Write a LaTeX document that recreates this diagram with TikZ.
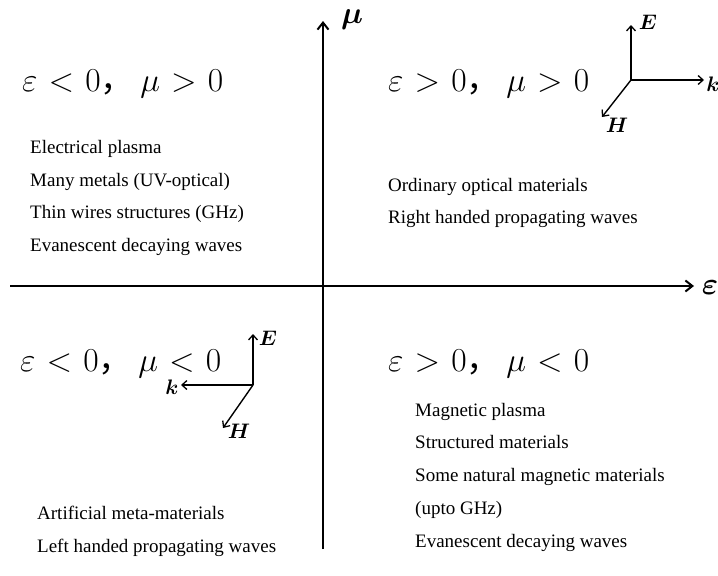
\RequirePackage{fix-cm}
\documentclass[tikz,border=0pt]{standalone}
\usepackage{amsmath}
\usepackage{bm}
\usepackage{fontspec}
\setmainfont{Liberation Serif}
\newfontfamily\cjk{Noto Sans CJK SC}
\usetikzlibrary{arrows.meta}
\newcommand{\cnd}[4]{\thickmuskip=6mu$#1#2 0$\cjk{，}\hspace{6pt}$#3#4 0$}
\begin{document}
\begin{tikzpicture}[x=1pt,y=-1pt,
  axis/.style={line width=2.4pt,-{Straight Barb[length=7pt,width=11pt,line width=2pt]}},
  vec/.style={line width=1.4pt,-{Straight Barb[length=5pt,width=9pt,line width=1.3pt]}},
  body/.style={anchor=base west,inner sep=0pt,font=\fontsize{19}{21}\selectfont},
  cond/.style={anchor=base west,inner sep=0pt,font=\fontsize{33.5}{36}\selectfont},
  vlab/.style={inner sep=0pt,font=\fontsize{21}{24}\selectfont},
  alab/.style={inner sep=0pt,font=\fontsize{31}{34}\selectfont}]
\useasboundingbox (0,0) rectangle (718,576);
% axes
\coordinate (xs) at (10,286);
\coordinate (xe) at (694,286);
\coordinate (ys) at (323,549);
\coordinate (ye) at (323,21);
\draw[axis] (xs) -- (xe);
\draw[axis] (ys) -- (ye);
\node[alab] (mu) at (352,20) {$\bm{\mu}$};
\node[alab] (eps) at (710,288) {$\bm{\varepsilon}$};
% conditions
\node[cond] (c1) at (22,91) {\cnd{\varepsilon}{<}{\mu}{>}};
\node[cond] (c2) at (388,91) {\cnd{\varepsilon}{>}{\mu}{>}};
\node[cond] (c3) at (20,371) {\cnd{\varepsilon}{<}{\mu}{<}};
\node[cond] (c4) at (388,371) {\cnd{\varepsilon}{>}{\mu}{<}};
% quadrant texts
\node[body] (t1) at (30,153) {Electrical plasma};
\node[body] (t2) at (30,186) {Many metals (UV-optical)};
\node[body] (t3) at (30,218.5) {Thin wires structures (GHz)};
\node[body] (t4) at (30,251) {Evanescent decaying waves};
\node[body] (t5) at (388,191) {Ordinary optical materials};
\node[body] (t6) at (388,223.5) {Right handed propagating waves};
\node[body] (t7) at (37,519) {Artificial meta-materials};
\node[body] (t8) at (37,552) {Left handed propagating waves};
\node[body] (t9) at (415,416) {Magnetic plasma};
\node[body] (t10) at (415,448.5) {Structured materials};
\node[body] (t11) at (415,481) {Some natural magnetic materials};
\node[body] (t12) at (415,514) {(upto GHz)};
\node[body] (t13) at (415,547) {Evanescent decaying waves};
% triad top right
\coordinate (o1) at (631,80);
\coordinate (e1) at (631,25);
\coordinate (k1) at (704,80);
\coordinate (h1) at (602,117);
\draw[vec] (o1) -- (e1);
\draw[vec] (o1) -- (k1);
\draw[vec] (o1) -- (h1);
\node[vlab] (E1) at (648,22) {$\bm{E}$};
\node[vlab] (K1) at (713,84) {$\bm{k}$};
\node[vlab] (H1) at (617,125) {$\bm{H}$};
% triad bottom left
\coordinate (o2) at (253,385);
\coordinate (e2) at (253,334);
\coordinate (k2) at (181,385);
\coordinate (h2) at (223,428);
\draw[vec] (o2) -- (e2);
\draw[vec] (o2) -- (k2);
\draw[vec] (o2) -- (h2);
\node[vlab] (E2) at (268,338) {$\bm{E}$};
\node[vlab] (K2) at (172,387) {$\bm{k}$};
\node[vlab] (H2) at (239,431) {$\bm{H}$};
\end{tikzpicture}
\end{document}
